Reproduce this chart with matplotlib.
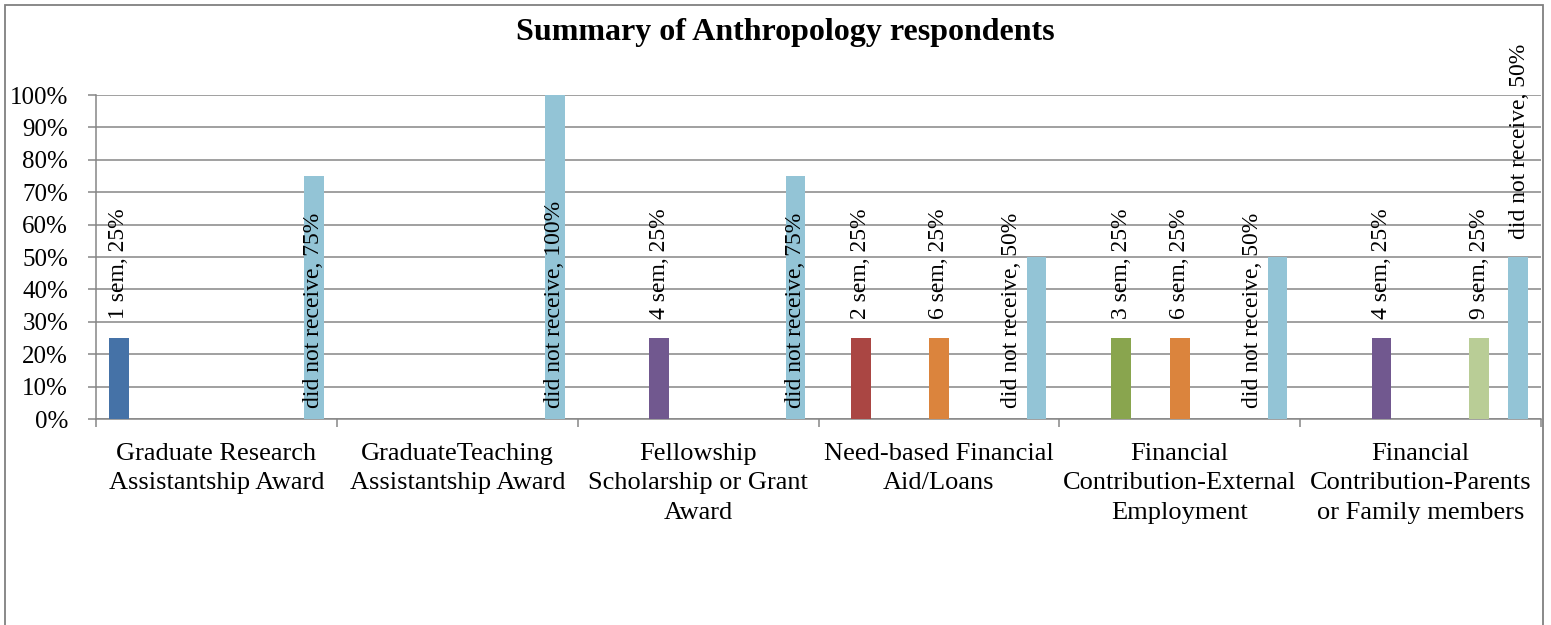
import matplotlib
matplotlib.use("Agg")
import matplotlib.pyplot as plt
from matplotlib.patches import Rectangle

categories = [
    "Graduate Research\nAssistantship Award",
    "GraduateTeaching\nAssistantship Award",
    "Fellowship\nScholarship or Grant\nAward",
    "Need-based Financial\nAid/Loans",
    "Financial\nContribution-External\nEmployment",
    "Financial\nContribution-Parents\nor Family members",
]
series_names = ["1 sem", "2 sem", "3 sem", "4 sem", "5 sem", "6 sem",
                "7 sem", "8 sem", "9 sem", "10 sem", "did not receive"]
sem1 = [0.25, 0, 0, 0, 0, 0]
sem2 = [0, 0, 0, 0.25, 0, 0]
sem3 = [0, 0, 0, 0, 0.25, 0]
sem4 = [0, 0, 0.25, 0, 0, 0.25]
sem5 = [0, 0, 0, 0, 0, 0]
sem6 = [0, 0, 0, 0.25, 0.25, 0]
sem7 = [0, 0, 0, 0, 0, 0]
sem8 = [0, 0, 0, 0, 0, 0]
sem9 = [0, 0, 0, 0, 0, 0.25]
sem10 = [0, 0, 0, 0, 0, 0]
did_not_receive = [0.75, 1.00, 0.75, 0.50, 0.50, 0.50]
series_values = [sem1, sem2, sem3, sem4, sem5, sem6, sem7, sem8, sem9, sem10, did_not_receive]
yticks = [i / 10 for i in range(11)]
ytick_labels = [f"{i*10}%" for i in range(11)]

colors = ["#4572A7", "#AA4643", "#89A54E", "#71588F", "#4198AF", "#DB843D",
          "#93A9CF", "#D19392", "#B9CD96", "#A99BBD", "#93C4D6"]
# label placement style for "did not receive" per category
dnr_mode = ["base", "base", "base", "base_left", "base_left", "end"]

W, H = 1551, 625
fig = plt.figure(figsize=(W / 100, H / 100), dpi=100)
plt.rcParams["font.family"] = ["Liberation Serif", "DejaVu Serif"]
FS_DATA = 17
FS_TICK = 18
FS_CAT = 19
GRID = "#868686"

left, right = 96 / W, 1541 / W
bottom, top = 1 - 419 / H, 1 - 95 / H
ax = fig.add_axes([left, bottom, right - left, top - bottom])

n = len(series_names)
w = 0.081
for j, (name, vals) in enumerate(zip(series_names, series_values)):
    xs = [i + 0.5 + (j - (n - 1) / 2) * w for i in range(len(categories))]
    ax.bar(xs, vals, width=w, color=colors[j], zorder=3, linewidth=0)
    for i, (x, v) in enumerate(zip(xs, vals)):
        if v <= 0:
            continue
        txt = f"{name}, {int(round(v*100))}%"
        if name == "did not receive":
            mode = dnr_mode[i]
            if mode == "end":
                ax.annotate(txt, (x, v), xytext=(1, 13), textcoords="offset points",
                            rotation=90, ha="center", va="bottom", fontsize=FS_DATA, zorder=4)
            else:
                dx = -18 if mode == "base_left" else 0
                ax.annotate(txt, (x, 0), xytext=(dx, 8), textcoords="offset points",
                            rotation=90, ha="center", va="bottom", fontsize=FS_DATA, zorder=4)
        else:
            ax.annotate(txt, (x, v), xytext=(0, 14), textcoords="offset points",
                        rotation=90, ha="center", va="bottom", fontsize=FS_DATA, zorder=4)

ax.set_xlim(0, len(categories))
ax.set_ylim(0, 1)
ax.set_yticks(yticks)
ax.set_yticklabels(ytick_labels, fontsize=FS_TICK)
ax.yaxis.grid(True, color=GRID, linewidth=1.1, zorder=0)
ax.set_axisbelow(True)
ax.tick_params(axis="y", length=6, width=1.1, color=GRID, pad=14)

ax.set_xticks(range(len(categories) + 1))
ax.set_xticklabels([])
ax.tick_params(axis="x", which="major", length=6, width=1.1, color=GRID, direction="out")
ax.set_xticks([i + 0.5 for i in range(len(categories))], minor=True)
ax.set_xticklabels(categories, minor=True, fontsize=FS_CAT, linespacing=1.45)
ax.tick_params(axis="x", which="minor", length=0, pad=17)

for s in ["top", "right"]:
    ax.spines[s].set_visible(False)
for s in ["left", "bottom"]:
    ax.spines[s].set_color(GRID)
    ax.spines[s].set_linewidth(1.1)

fig.text(785 / W, 1 - 40 / H, "Summary of Anthropology respondents",
         ha="center", va="baseline", fontsize=23, fontweight="bold")

fig.patches.append(Rectangle((5 / W, -0.05), (1543 - 5) / W, 1.05 - 5 / H,
                             transform=fig.transFigure, fill=False,
                             edgecolor="#808080", linewidth=1.3))

fig.savefig("out.png", dpi=100)
